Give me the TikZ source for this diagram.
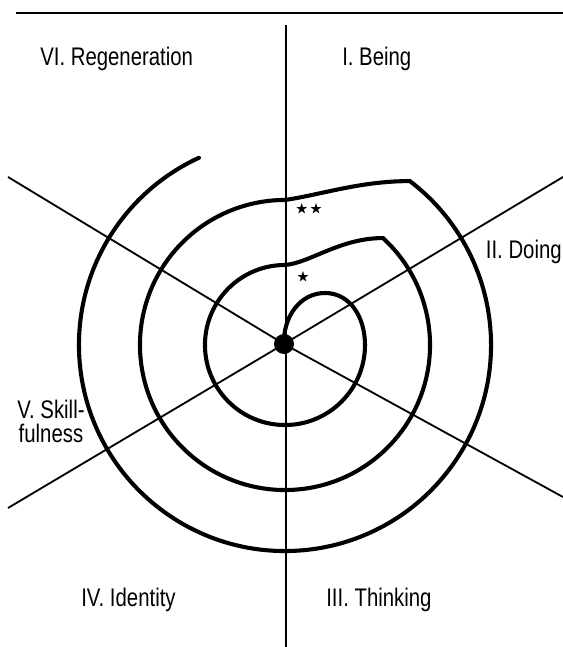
\documentclass[tikz,border=0pt]{standalone}
\usepackage{fontspec}
\usepackage{amssymb}
\newfontfamily\zonefont{Liberation Sans}[FakeStretch=0.80]
\tikzset{
  zonelabel/.style={inner sep=0pt, font=\zonefont\fontsize{18.1}{17.2}\selectfont},
  spiralpath/.style={line width=2.9pt, line cap=round},
  axisline/.style={line width=1.3pt},
  starmark/.style={inner sep=0pt, font=\fontsize{9}{9}\selectfont},
}
\begin{document}
\begin{tikzpicture}[x=0.025cm, y=0.025cm]
  \useasboundingbox (0,0) rectangle (563,647);
  % rule along the top
  \coordinate (ruleL) at (16,634);
  \coordinate (ruleR) at (563,634);
  \draw[line width=1.8pt] (ruleL) -- (ruleR);

  % hub and the six sector lines
  \node[circle, fill, minimum size=0.5cm, inner sep=0pt] (hub) at (284,303) {};
  \coordinate (axisN) at (286,622);
  \coordinate (axisS) at (286,0);
  \coordinate (axisNW) at (8,470);
  \coordinate (axisNE) at (563,470);
  \coordinate (axisSW) at (8,139);
  \coordinate (axisSE) at (563,150);
  \draw[axisline] (axisN) -- (axisS);
  \draw[axisline] (hub.center) -- (axisNW);
  \draw[axisline] (hub.center) -- (axisNE);
  \draw[axisline] (hub.center) -- (axisSW);
  \draw[axisline] (hub.center) -- (axisSE);

  % spiral, stepping out once per turn
  \coordinate (ctr) at (285,302);
  \coordinate (bend1) at ([shift={(47.5:3.625cm)}]ctr);
  \coordinate (bend2) at ([shift={(52.7:5.15cm)}]ctr);
  \draw[spiralpath] (hub.center) .. controls (283,330) and (300,354) .. (325,354)
    .. controls (350,354) and (365,330) .. (365,302)
    arc[start angle=0, end angle=-270, radius=2cm]
    .. controls (310,384) and (340,409) .. (bend1)
    arc[start angle=47.5, end angle=-270, radius=3.625cm]
    .. controls (320,452) and (360,466) .. (bend2)
    arc[start angle=52.7, end angle=-245.3, radius=5.15cm];

  \node[starmark] (twostars) at (309,438) {$\bigstar\,\bigstar$};
  \node[starmark] (onestar) at (303,370) {$\bigstar$};

  % sector names
  \node[zonelabel, anchor=base west] (regen) at (40,581) {VI. Regeneration};
  \node[zonelabel, anchor=base west] (being) at (342,581) {I. Being};
  \node[zonelabel, anchor=base east] (doing) at (562,388) {II. Doing};
  \node[zonelabel, align=center] (skill) at (51,226) {V. Skill-\\fulness};
  \node[zonelabel, anchor=base west] (identity) at (81,40) {IV. Identity};
  \node[zonelabel, anchor=base west] (thinking) at (326,40) {III. Thinking};
\end{tikzpicture}
\end{document}
